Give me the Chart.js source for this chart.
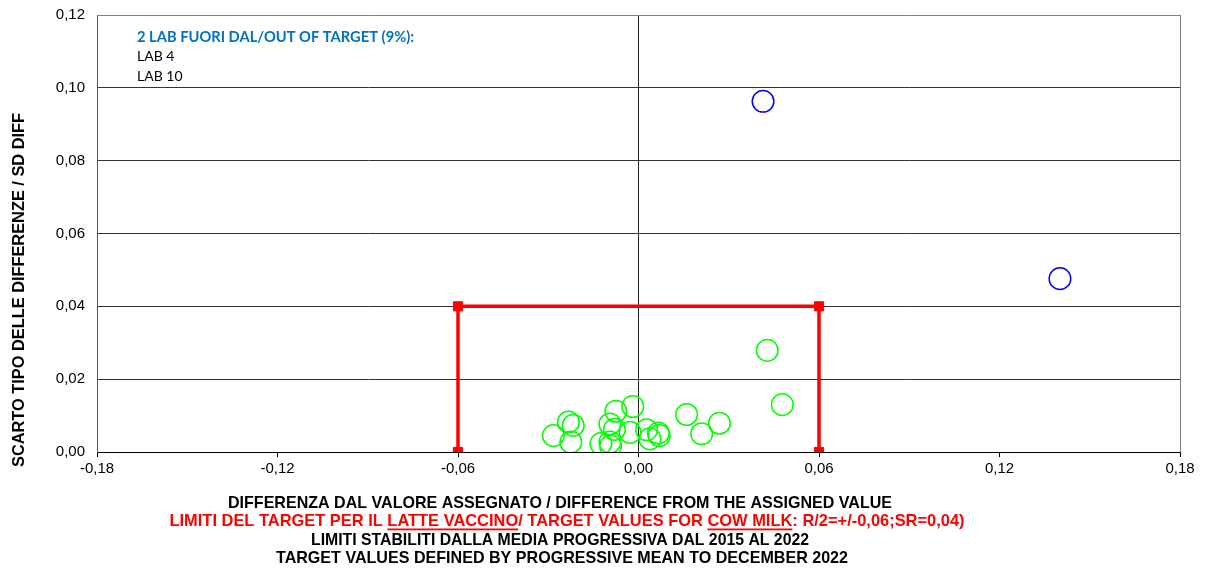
<!DOCTYPE html>
<html>
<head>
<meta charset="utf-8">
<script src="https://cdn.jsdelivr.net/npm/chart.js@4.4.1/dist/chart.umd.min.js"></script>
<style>
  html, body { margin: 0; padding: 0; background: #ffffff; }
  #wrap { width: 1207px; height: 572px; position: relative; }
</style>
</head>
<body>
<div id="wrap"><canvas id="c" width="1207" height="572"></canvas></div>
<script>
// ---- data ----
const inTargetX = [-0.0283, -0.0233, -0.0217, -0.0225, -0.0075, -0.0019, -0.0095, -0.0080, -0.0125, -0.0095, -0.0093,
                   -0.0028, 0.0027, 0.0038, 0.0066, 0.0069, 0.0160, 0.0210, 0.0269, 0.0478, 0.0428];
const inTargetY = [0.0045, 0.0082, 0.0073, 0.0027, 0.0112, 0.0125, 0.0077, 0.0062, 0.0023, 0.0027, 0.0016,
                   0.0054, 0.0061, 0.0036, 0.0052, 0.0045, 0.0103, 0.0050, 0.0079, 0.0130, 0.0279];
const outTargetX = [0.0414, 0.1401];
const outTargetY = [0.0963, 0.0476];
const limitX = [-0.06, -0.06, 0.06, 0.06];
const limitY = [0, 0.04, 0.04, 0];
const xMin = -0.18, xMax = 0.18, xStep = 0.06;
const yMin = 0, yMax = 0.12, yStep = 0.02;

const yTitle = 'SCARTO TIPO DELLE DIFFERENZE / SD DIFF';
const noteTitle = '2 LAB FUORI DAL/OUT OF TARGET (9%):';
const noteLines = ['LAB 4', 'LAB 10'];
const xTitle1 = 'DIFFERENZA DAL VALORE ASSEGNATO / DIFFERENCE FROM THE ASSIGNED VALUE';
const xTitle2Parts = [
  ['LIMITI DEL TARGET PER IL ', false],
  ['LATTE VACCINO', true],
  ['/ TARGET VALUES FOR ', false],
  ['COW MILK', true],
  [': R/2=+/-0,06;SR=0,04)', false]
];
const xTitle3 = 'LIMITI STABILITI DALLA MEDIA PROGRESSIVA DAL 2015 AL 2022';
const xTitle4 = 'TARGET VALUES DEFINED BY PROGRESSIVE MEAN TO DECEMBER 2022';

const toPts = (xs, ys) => xs.map((x, i) => ({ x: x, y: ys[i] }));
const fmt = v => (Math.abs(v) < 1e-9 ? 0 : v).toFixed(2).replace('.', ',');

function drawScaledText(ctx, text, cx, baseline, targetW, font, color) {
  ctx.save();
  ctx.font = font;
  ctx.fillStyle = color;
  ctx.textBaseline = 'alphabetic';
  ctx.textAlign = 'left';
  const w = ctx.measureText(text).width;
  const s = targetW / w;
  ctx.translate(cx - targetW / 2, baseline);
  ctx.scale(s, 1);
  ctx.fillText(text, 0, 0);
  ctx.restore();
}

const textPlugin = {
  id: 'texts',
  beforeDatasetsDraw(chart) {
    const ctx = chart.ctx, a = chart.chartArea;
    ctx.save();
    ctx.strokeStyle = '#808080';
    ctx.lineWidth = 1;
    ctx.beginPath();
    ctx.moveTo(Math.round(a.left) + 0.5, Math.round(a.top) + 0.5);
    ctx.lineTo(Math.round(a.right) + 0.5, Math.round(a.top) + 0.5);
    ctx.lineTo(Math.round(a.right) + 0.5, Math.round(a.bottom) + 0.5);
    ctx.stroke();
    ctx.restore();
  },
  afterDraw(chart) {
    const ctx = chart.ctx;
    // y axis title
    ctx.save();
    ctx.font = 'bold 16px "Liberation Sans", Arial, sans-serif';
    ctx.fillStyle = '#000';
    ctx.textAlign = 'center';
    ctx.textBaseline = 'middle';
    ctx.translate(20, 290);
    ctx.rotate(-Math.PI / 2);
    const yw = ctx.measureText(yTitle).width;
    ctx.scale(354 / yw, 1);
    ctx.fillText(yTitle, 0, 0);
    ctx.restore();

    // annotation
    ctx.save();
    ctx.font = 'bold 15px Lato, "Open Sans", sans-serif';
    ctx.fillStyle = '#0070C0';
    ctx.textBaseline = 'middle';
    const nw = ctx.measureText(noteTitle).width;
    ctx.translate(137, 37);
    ctx.scale(277 / nw, 1);
    ctx.fillText(noteTitle, 0, 0);
    ctx.restore();
    ctx.save();
    ctx.font = '14px Lato, "Open Sans", sans-serif';
    ctx.fillStyle = '#000';
    ctx.textBaseline = 'middle';
    ctx.fillText(noteLines[0], 137, 56);
    ctx.fillText(noteLines[1], 137, 76);
    ctx.restore();

    // bottom titles
    const bf = 'bold 17px "Liberation Sans", Arial, sans-serif';
    drawScaledText(ctx, xTitle1, 560, 508, 664, bf, '#000');
    drawScaledText(ctx, xTitle3, 560, 545, 498, bf, '#000');
    drawScaledText(ctx, xTitle4, 562, 563, 572, bf, '#000');

    // line 2 with underlines
    ctx.save();
    ctx.font = bf;
    ctx.textBaseline = 'alphabetic';
    let total = 0;
    xTitle2Parts.forEach(p => total += ctx.measureText(p[0]).width);
    const targetW = 795, cx = 567, base = 526;
    const s = targetW / total;
    ctx.translate(cx - targetW / 2, base);
    ctx.scale(s, 1);
    ctx.fillStyle = '#ff0000';
    let x = 0;
    xTitle2Parts.forEach(p => {
      const w = ctx.measureText(p[0]).width;
      ctx.fillText(p[0], x, 0);
      if (p[1]) {
        ctx.fillRect(x, 2.5, w, 1.8);
      }
      x += w;
    });
    ctx.restore();
  }
};

new Chart(document.getElementById('c'), {
  type: 'scatter',
  data: {
    datasets: [
      {
        label: 'limits',
        data: toPts(limitX, limitY),
        showLine: true,
        borderColor: '#ff0000',
        backgroundColor: '#ff0000',
        borderWidth: 3.5,
        pointStyle: 'rect',
        pointRadius: 6.5,
        pointBorderWidth: 1,
        pointBorderColor: '#ff0000',
        pointBackgroundColor: '#ff0000',
        order: 0
      },
      {
        label: 'in',
        data: toPts(inTargetX, inTargetY),
        showLine: false,
        borderColor: '#00ff00',
        backgroundColor: 'rgba(0,0,0,0)',
        pointRadius: 10.8,
        pointBorderWidth: 1.5,
        order: 1
      },
      {
        label: 'out',
        data: toPts(outTargetX, outTargetY),
        showLine: false,
        borderColor: '#0000ff',
        backgroundColor: 'rgba(0,0,0,0)',
        pointRadius: 10.8,
        pointBorderWidth: 1.5,
        order: 2
      }
    ]
  },
  options: {
    responsive: false,
    animation: false,
    events: [],
    layout: { padding: { top: 15, right: 27, left: 0, bottom: 0 } },
    plugins: { legend: { display: false }, tooltip: { enabled: false }, title: { display: false } },
    scales: {
      x: {
        type: 'linear',
        min: xMin, max: xMax,
        afterFit(scale) { scale.height = 120; },
        ticks: {
          stepSize: xStep,
          padding: 3,
          color: '#000',
          font: { family: '"Liberation Sans", Arial, sans-serif', size: 15 },
          maxRotation: 0,
          callback: v => fmt(v)
        },
        grid: {
          color: ctx => {
            const v = ctx.tick ? ctx.tick.value : null;
            if (v === null) return 'rgba(0,0,0,0)';
            if (Math.abs(v) < 1e-9) return '#222';
            if (Math.abs(v - xMax) < 1e-9) return '#808080';
            return 'rgba(0,0,0,0)';
          },
          tickColor: '#000',
          tickLength: 5,
          lineWidth: 1
        },
        border: { display: true, color: '#000', width: 1 }
      },
      y: {
        type: 'linear',
        min: yMin, max: yMax,
        afterFit(scale) { scale.width = 97; },
        ticks: {
          stepSize: yStep,
          padding: 4,
          color: '#000',
          font: { family: '"Liberation Sans", Arial, sans-serif', size: 15 },
          callback: v => fmt(v)
        },
        grid: {
          color: ctx => {
            const v = ctx.tick ? ctx.tick.value : null;
            if (v === null) return 'rgba(0,0,0,0)';
            if (Math.abs(v - yMax) < 1e-9) return '#808080';
            return '#333';
          },
          tickColor: 'rgba(0,0,0,0)',
          tickLength: 8,
          lineWidth: 1
        },
        border: { display: true, color: '#555', width: 1 }
      }
    }
  },
  plugins: [textPlugin]
});
</script>
</body>
</html>
